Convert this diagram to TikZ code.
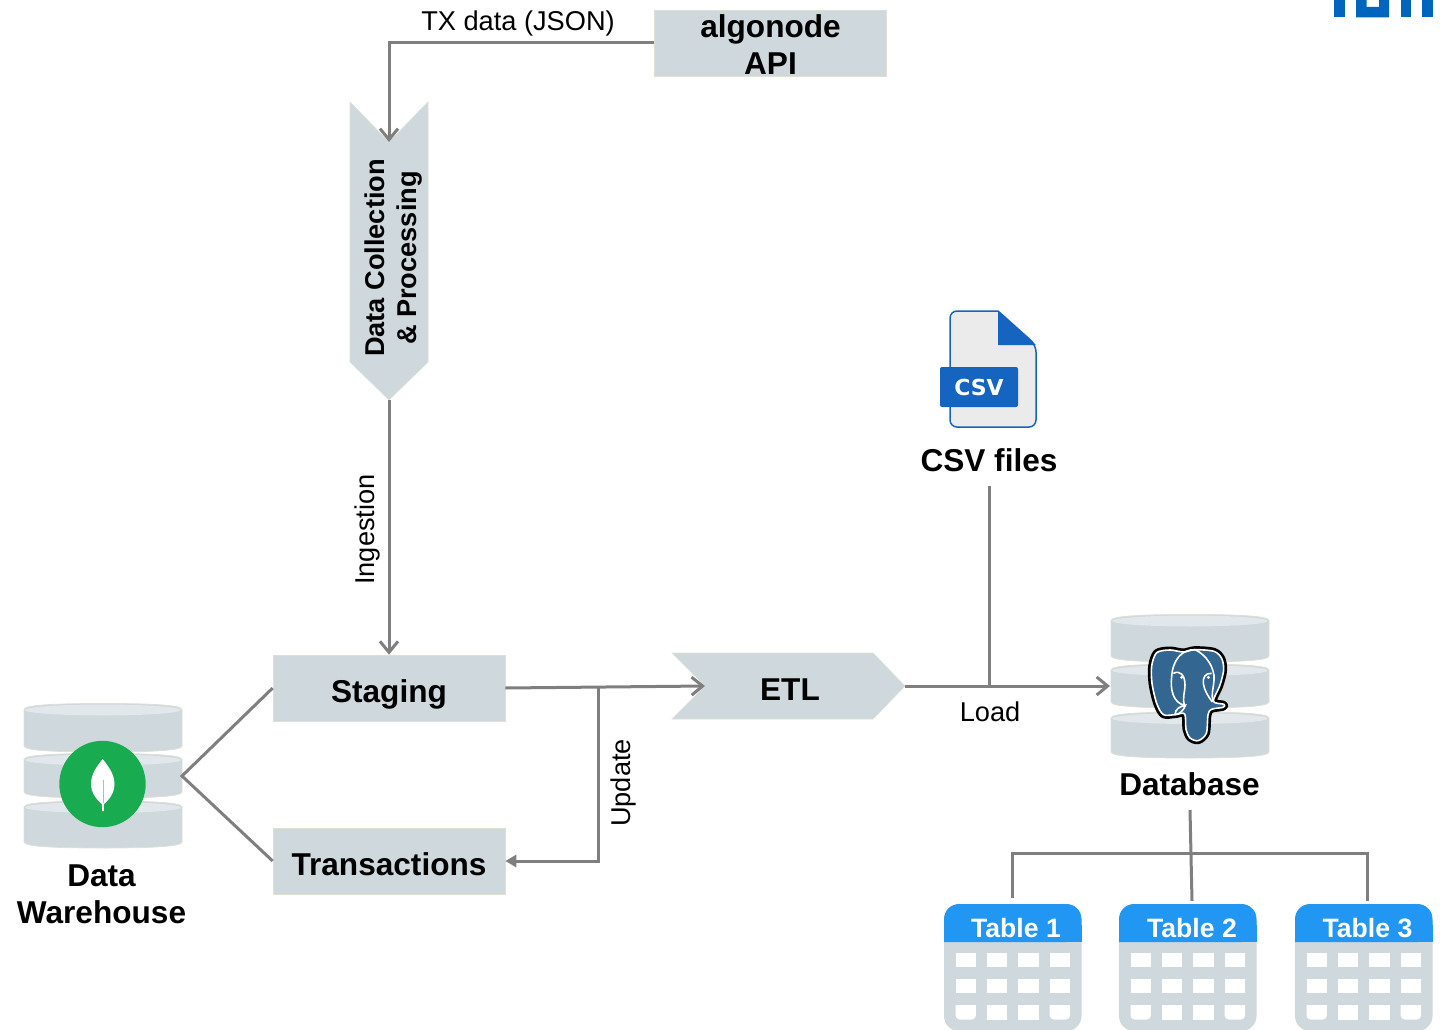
\documentclass[tikz,border=0pt]{standalone}
\usepackage{fontspec}
\setmainfont{Liberation Sans}
\newfontfamily\badgefont{DejaVu Sans}
\usetikzlibrary{calc,arrows.meta}

\definecolor{boxfill}{HTML}{CFD8DC}
\definecolor{boxedge}{HTML}{DFDFD6}
\definecolor{disktop}{HTML}{E1E7EB}
\definecolor{flowgray}{HTML}{7F7F7F}
\definecolor{mongogreen}{HTML}{18AB50}
\definecolor{pgblue}{HTML}{336791}
\definecolor{csvblue}{HTML}{1565C0}
\definecolor{tablehead}{HTML}{2196F3}
\definecolor{tumblue}{HTML}{0065BD}

\tikzset{
  flowline/.style={draw=flowgray,line width=3pt},
  openarrow/.style={-{Straight Barb[length=11pt,width=18pt]}},
  solidarrow/.style={-{Triangle[length=11pt,width=12pt]}},
  flowbox/.style={fill=boxfill,draw=boxedge,line width=0.6pt,minimum width=232pt,minimum height=66pt,inner sep=0pt,text height=28pt,text depth=0pt,boldtext},
  boldtext/.style={font=\fontsize{31.6}{37}\selectfont\bfseries,align=center},
  flowtext/.style={font=\fontsize{27.2}{32}\selectfont,inner sep=0pt},
  tabletext/.style={font=\fontsize{26.6}{30}\selectfont\bfseries,text=white,inner sep=0pt,minimum height=54pt},
}

% one disk of a database stack: centre x, top y, bottom y
\newcommand{\dbdisk}[3]{
\draw[fill=boxfill,draw=boxedge,line width=0.8pt] (#1-79,#2+6) -- (#1-79,#3-6)
  .. controls (#1-79,#3-1) and (#1-40,#3) .. (#1,#3)
  .. controls (#1+40,#3) and (#1+79,#3-1) .. (#1+79,#3-6)
  -- (#1+79,#2+6) .. controls (#1+79,#2+1) and (#1+40,#2) .. (#1,#2)
  .. controls (#1-40,#2) and (#1-79,#2+1) .. cycle;
\fill[disktop] (#1,#2+6.5) ellipse [x radius=78,y radius=5.5];
}

% body of a table card: left x
\newcommand{\tablecard}[1]{
\begin{scope}[shift={(#1,0)}]
\fill[boxfill,rounded corners=15pt] (0,925) -- (0,1031) -- (137.5,1031) -- (137.5,925) -- cycle;
\fill[tablehead,rounded corners=15pt] (0,942) -- (0,904) -- (137.5,904) -- (137.5,942) [sharp corners] -- cycle;
\fill[tablehead] (0,925) rectangle (137.5,941.5);
\foreach \cx in {11.5,42.9,74.3,105.7} {
  \foreach \cy in {952.7,978.7}
    \fill[white] (\cx,\cy) rectangle (\cx+20.3,\cy+14.6);
}
\fill[white,rounded corners=4pt] (11.5,1005) -- (11.5,1019.5) -- (31.8,1019.5) -- (31.8,1012) [sharp corners] -- (31.8,1005) -- cycle;
\fill[white] (42.9,1005) rectangle (63.2,1019.5);
\fill[white] (74.3,1005) rectangle (94.6,1019.5);
\fill[white,rounded corners=4pt] (126,1005) -- (126,1019.5) -- (105.7,1019.5) -- (105.7,1012) [sharp corners] -- (105.7,1005) -- cycle;
\end{scope}
}

\begin{document}
\begin{tikzpicture}[x=1pt,y=-1pt]
\useasboundingbox (0,0) rectangle (1443,1030);

\fill[tumblue] (1334,0) rectangle (1345,17.5);
\fill[tumblue] (1356,0) -- (1366.5,0) -- (1366.5,7) -- (1379,7) -- (1379,0) -- (1389,0) -- (1389,17.5) -- (1356,17.5) -- cycle;
\fill[tumblue] (1401,0) rectangle (1411,17.5);
\fill[tumblue] (1422,0) rectangle (1433,17.5);

\node[flowbox] (api) at (770.5,43) {};
\node[boldtext,inner sep=0pt] (apitext) at (770.5,45) {algonode\\API};

\draw[fill=boxfill,draw=boxedge,line width=0.6pt] (350,102) -- (389,142) -- (428,102) -- (428,362) -- (389,400) -- (350,362) -- cycle;
\coordinate (collectin) at (389,142);
\coordinate (collectout) at (389,400);
\node[font=\fontsize{27.2}{32}\selectfont\bfseries,align=center,rotate=90,inner sep=0pt] (collect) at (394,258) {Data Collection\\\& Processing};

\node[flowbox] (staging) at (389,688) {Staging};
\node[flowbox] (transactions) at (389,861) {Transactions};

\draw[fill=boxfill,draw=boxedge,line width=0.6pt] (672,653) -- (873,653) -- (905,686) -- (873,719) -- (672,719) -- (705,686) -- cycle;
\coordinate (etlin) at (705,686);
\coordinate (etlout) at (905,686);
\node[boldtext,inner sep=0pt] (etl) at (790,690) {ETL};

% csv file icon
\draw[fill=black!8,draw=csvblue,line width=1.5pt,rounded corners=7pt] (998,311) -- (950,311) -- (950,427) -- (1036,427) -- (1036,345) [sharp corners] -- cycle;
\fill[csvblue] (998,311) -- (1036,345) -- (998,345) -- cycle;
\fill[csvblue,rounded corners=2pt] (940,367) rectangle (1018,407);
\node[font=\fontsize{22}{26}\badgefont\bfseries,text=white,inner sep=0pt] (csvbadge) at (979,387) {CSV};
\node[boldtext,inner sep=0pt] (csvfiles) at (989,460) {CSV files};
\coordinate (csvout) at (989.5,486);
\coordinate (loadjoin) at (989.5,686);

% warehouse
\dbdisk{103}{703.5}{752}
\dbdisk{103}{753.5}{798}
\dbdisk{103}{801}{848}
\fill[mongogreen] (102.5,784) circle [radius=43.2];
\fill[white] (102.7,759) .. controls (97,766) and (91,774) .. (91,784)
  .. controls (91,793) and (97,800) .. (101.8,804) -- (102.2,811) -- (103.8,811) -- (104,804)
  .. controls (109,800) and (114.5,793) .. (114.5,784)
  .. controls (114.5,774) and (108,766) .. (102.7,759) -- cycle;
\draw[mongogreen!50,line width=0.8pt] (103,780) -- (103,803);
\node[boldtext,inner sep=0pt] (warehouse) at (101.5,894) {Data\\Warehouse};
\coordinate (warehouseout) at (182,776);

% database
\dbdisk{1190}{614.5}{662}
\dbdisk{1190}{664}{708}
\dbdisk{1190}{712}{758}
\begin{scope}[shift={(1140,640)},x=0.3333pt,y=-0.3333pt]
\def\pgoutline{(35,78) (50,38) (90,30) (130,36) (165,29) (222,34) (245,55) (251,90) (239,138) (220,184) (252,193) (249,202) (214,208) (204,225) (199,280) (175,302) (150,294) (138,268) (134,222) (105,224) (70,224) (50,190) (36,130)}
\draw[black,line width=7pt,line join=round] plot[smooth cycle,tension=0.5] coordinates {\pgoutline};
\fill[pgblue] plot[smooth cycle,tension=0.5] coordinates {\pgoutline};
\draw[white,line width=1.6pt] plot[smooth cycle,tension=0.5] coordinates {\pgoutline};
\draw[white,line width=1.6pt] (165,29) .. controls (125,28) and (98,60) .. (95,110) .. controls (90,150) and (100,190) .. (135,196);
\draw[white,line width=1.6pt] (100,100) .. controls (120,90) and (135,105) .. (135,135) .. controls (135,160) and (125,175) .. (135,200);
\draw[white,line width=1.6pt] (165,29) .. controls (200,45) and (225,85) .. (222,120) .. controls (220,150) and (212,165) .. (220,184);
\draw[white,line width=1.6pt] (215,100) .. controls (195,98) and (188,115) .. (190,130) .. controls (192,150) and (205,170) .. (217,186);
\draw[white,line width=1.6pt] (105,224) .. controls (105,208) and (120,198) .. (136,196) .. controls (130,212) and (120,222) .. (105,224);
\fill[white] (125,112) circle [radius=5];
\fill[white] (205,112) circle [radius=5];
\end{scope}
\coordinate (dbin) at (1110,686);
\node[boldtext,inner sep=0pt] (database) at (1189.5,784) {Database};
\coordinate (dbout) at (1190,810);

% tables
\tablecard{944}
\tablecard{1119}
\tablecard{1295}
\node[tabletext] (tablea) at (1016,928) {Table 1};
\node[tabletext] (tableb) at (1192,928) {Table 2};
\node[tabletext] (tablec) at (1367.5,928) {Table 3};
\coordinate (tableatop) at (1012,898);
\coordinate (tablebar) at (1012,853);

% connectors
\draw[flowline,openarrow] (api.west) -| (collectin);
\draw[flowline,openarrow] (collectout) -- (staging.north);
\draw[flowline,openarrow] (staging.east) -- (etlin);
\coordinate (updatejoin) at (598,687);
\draw[flowline,solidarrow] (updatejoin) |- (transactions.east);
\draw[flowline,openarrow] (etlout) -- (dbin);
\draw[flowline] (csvout) -- (loadjoin);
\draw[flowline] (transactions.west) -- (warehouseout) -- (staging.west);
\draw[flowline] (dbout) -- (tableb.north);
\draw[flowline] (tableatop) -- (tablebar) -- (tablebar -| tablec.north) -- (tablec.north);

\node[flowtext] (txdata) at (518,23) {TX data (JSON)};
\node[flowtext,rotate=90] (ingestion) at (367,529.5) {Ingestion};
\node[flowtext,rotate=90] (update) at (623,783) {Update};
\node[flowtext] (load) at (990,712) {Load};
\end{tikzpicture}
\end{document}
